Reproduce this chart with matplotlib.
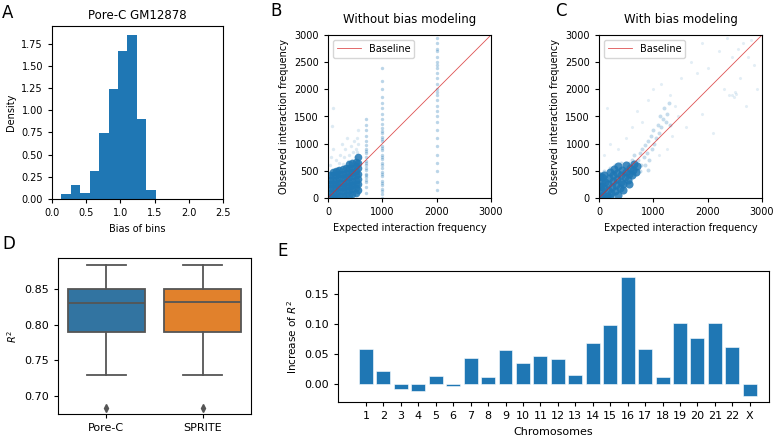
import numpy as np
import matplotlib
matplotlib.use("Agg")
import matplotlib.pyplot as plt

plt.rcParams['font.family'] = ['DejaVu Sans']

# A: histogram of bin biases (density per bin)
bias_edges = [0.136, 0.282, 0.413, 0.558, 0.694, 0.830, 0.966, 1.102, 1.243, 1.379, 1.520]
bias_density = [0.06, 0.16, 0.07, 0.32, 0.74, 1.24, 1.67, 1.85, 0.90, 0.10]

# B: without bias modeling (expected, observed)
b_core_x = [30, 30, 30, 30, 30, 30,
            90, 90, 90, 90, 90, 90, 90,
            150, 150, 150, 150, 150, 150, 150,
            210, 210, 210, 210, 210, 210, 210,
            270, 270, 270, 270, 270, 270, 270,
            330, 330, 330, 330, 330, 330, 330,
            390, 390, 390, 390, 390, 390, 390, 390,
            450, 450, 450, 450, 450, 450, 450, 450,
            510, 510, 510, 510, 510, 510, 510, 510,
            550, 550, 550, 550, 550, 550, 550]
b_core_y = [20, 100, 180, 260, 340, 420,
            20, 100, 180, 260, 340, 420, 470,
            20, 100, 180, 260, 340, 420, 490,
            40, 120, 200, 280, 360, 440, 520,
            40, 120, 200, 280, 360, 440, 530,
            60, 140, 220, 300, 380, 460, 560,
            60, 140, 220, 300, 380, 460, 560, 620,
            80, 160, 240, 320, 400, 480, 560, 640,
            100, 180, 260, 340, 420, 500, 580, 660,
            150, 250, 350, 450, 550, 650, 750]
b_sparse_x = [40, 60, 100, 80, 90, 150, 200, 220, 250, 300, 320, 350, 380, 420, 460,
              480, 520, 540, 550, 500, 280, 180, 120, 440, 360, 550, 530]
b_sparse_y = [600, 750, 900, 1330, 1650, 700, 650, 800, 1000, 750, 900, 1100, 800, 950, 850,
              1050, 900, 1100, 1250, 750, 620, 560, 520, 700, 680, 1000, 850]
b_col_x = [700, 700, 700, 700, 700, 700, 700, 700, 700, 700, 700, 700, 700, 700, 700, 700, 700,
           700, 700, 700, 700, 700,
           1000, 1000, 1000, 1000, 1000, 1000, 1000, 1000, 1000, 1000, 1000, 1000, 1000, 1000,
           1000, 1000, 1000, 1000, 1000, 1000, 1000, 1000, 1000, 1000, 1000, 1000,
           1000, 1000, 1000, 1000, 1000, 1000, 1000, 1000,
           2000, 2000, 2000, 2000, 2000, 2000, 2000, 2000, 2000, 2000, 2000, 2000, 2000, 2000,
           2000, 2000, 2000, 2000, 2000, 2000, 2000, 2000, 2000, 2000, 2000, 2000, 2000]
b_col_y = [100, 200, 300, 380, 450, 520, 600, 680, 750, 820, 900, 980, 1050, 1150, 1250, 1350, 1450,
           340, 420, 560, 640, 860,
           0, 80, 160, 240, 320, 400, 480, 560, 640, 720, 800, 880, 960, 1040,
           1120, 1200, 1280, 1360, 1450, 1550, 1650, 1750, 1850, 2000, 2150, 2400,
           120, 280, 440, 600, 760, 920, 1080, 1240,
           150, 300, 500, 650, 800, 950, 1100, 1250, 1400, 1500, 1600, 1700, 1800, 1900,
           1950, 2000, 2100, 2200, 2300, 2400, 2450, 2500, 2600, 2700, 2750, 2850, 2950]

# C: with bias modeling (expected, observed)
c_core_x = [20, 30, 40, 50, 80, 100, 110, 90, 150, 160, 170, 180, 200, 230, 240, 250, 260, 280,
            300, 320, 330, 340, 350, 380, 400, 410, 430, 450, 470, 490, 500, 530, 550, 570,
            600, 620, 650, 680, 700, 200, 350, 450, 550, 120, 60, 10, 10]
c_core_y = [30, 120, 220, 320, 60, 180, 300, 420, 40, 140, 250, 370, 480, 90, 200, 310, 420, 530,
            120, 240, 350, 460, 580, 180, 300, 420, 520, 250, 380, 480, 600, 330, 440, 560,
            420, 520, 620, 480, 580, 10, 60, 150, 250, 0, 380, 200, 400]
c_mid_x = [720, 750, 780, 800, 820, 850, 880, 900, 920, 950, 970, 1000, 1020, 1050, 1080, 1100,
           1120, 1150, 1180, 1200, 1230, 1250, 1300, 1280, 650, 600, 550, 400, 300, 200, 100,
           750, 850, 900]
c_mid_y = [700, 820, 600, 900, 750, 980, 820, 1050, 700, 1150, 900, 1250, 1000, 1100, 1350, 1200,
           1500, 1300, 1450, 1650, 1400, 1550, 1350, 1750, 800, 700, 650, 650, 600, 560, 500,
           500, 600, 520]
c_sparse_x = [100, 200, 150, 350, 500, 600, 700, 800, 900, 1000, 1150, 1300, 1400, 1450, 1500,
              1600, 1700, 1800, 1900, 2000, 2100, 2200, 2300, 2400, 2450, 2500, 2550, 2600, 2700,
              2750, 2800, 2850, 2900, 2650, 2480, 2520, 2440, 1250, 1350, 1100, 1900, 2350]
c_sparse_y = [800, 1000, 1650, 900, 1100, 1300, 1600, 1400, 1800, 2000, 2100, 1900, 1700, 1500, 2200,
              1300, 2500, 2300, 1550, 2400, 1200, 2700, 2000, 1900, 2600, 1950, 2750, 2200, 1700,
              2600, 2900, 2450, 2000, 2850, 1850, 1920, 1900, 900, 1150, 800, 2850, 2950]
baseline = [0, 3000]

# D: R^2 box stats
box_labels = ["Pore-C", "SPRITE"]
box_whislo = [0.729, 0.729]
box_q1 = [0.790, 0.790]
box_med = [0.830, 0.831]
box_q3 = [0.850, 0.850]
box_whishi = [0.883, 0.883]
box_fliers = [[0.684], [0.684]]
box_colors = ["#3274a1", "#e1812c"]

# E: increase of R^2 per chromosome
chroms = ["1", "2", "3", "4", "5", "6", "7", "8", "9", "10", "11", "12", "13", "14", "15",
          "16", "17", "18", "19", "20", "21", "22", "X"]
r2_increase = [0.058, 0.021, -0.008, -0.012, 0.014, -0.003, 0.043, 0.011, 0.056, 0.035, 0.047,
               0.042, 0.015, 0.069, 0.098, 0.178, 0.058, 0.011, 0.101, 0.077, 0.101, 0.061, -0.020]

W, H = 780, 436
fig = plt.figure(figsize=(W / 100, H / 100), dpi=100)


def px_axes(l, t, r, b):
    return fig.add_axes([l / W, 1 - b / H, (r - l) / W, (b - t) / H])


tick_fs = 7
lab_fs = 7
blue = "#1f77b4"

# A
axA = px_axes(52, 26, 223, 199)
axA.hist(bias_edges[:-1], bins=bias_edges, weights=bias_density, color=blue)
axA.set_xlim(0, 2.5)
axA.set_ylim(0, 1.95)
axA.set_xticks([0, 0.5, 1.0, 1.5, 2.0, 2.5])
axA.set_yticks([0, 0.25, 0.5, 0.75, 1.0, 1.25, 1.5, 1.75])
axA.set_title("Pore-C GM12878", fontsize=8.5, pad=5)
axA.set_xlabel("Bias of bins", fontsize=lab_fs)
axA.set_ylabel("Density", fontsize=lab_fs)


def scatter_panel(ax, layers, title):
    for xs, ys, s, a in layers:
        ax.scatter(xs, ys, s=s, color=blue, alpha=a, linewidths=0)
    ax.plot(baseline, baseline, color="#d62728", lw=0.6, alpha=0.8, label="Baseline")
    ax.set_xlim(0, 3000)
    ax.set_ylim(0, 3000)
    ax.set_xticks([0, 1000, 2000, 3000])
    ax.set_yticks([0, 500, 1000, 1500, 2000, 2500, 3000])
    ax.set_title(title, fontsize=8.5, pad=9)
    ax.set_xlabel("Expected interaction frequency", fontsize=lab_fs)
    ax.set_ylabel("Observed interaction frequency", fontsize=lab_fs)
    ax.legend(loc="upper left", fontsize=7, handlelength=2.5)


axB = px_axes(328, 35, 491, 198)
scatter_panel(axB, [(b_core_x, b_core_y, 30, 0.85),
                    (b_sparse_x, b_sparse_y, 6, 0.15),
                    (b_col_x, b_col_y, 6, 0.3)], "Without bias modeling")

axC = px_axes(599, 35, 762, 198)
scatter_panel(axC, [(c_core_x, c_core_y, 34, 0.85),
                    (c_mid_x, c_mid_y, 8, 0.25),
                    (c_sparse_x, c_sparse_y, 5, 0.12)], "With bias modeling")

# D
axD = px_axes(58, 258, 251, 414)
stats = []
for i in range(len(box_labels)):
    stats.append(dict(label=box_labels[i], whislo=box_whislo[i], q1=box_q1[i], med=box_med[i],
                      q3=box_q3[i], whishi=box_whishi[i], fliers=box_fliers[i]))
gray = "#555555"
bp = axD.bxp(stats, positions=[0, 1], widths=0.8, patch_artist=True, showcaps=True,
             boxprops=dict(edgecolor=gray, linewidth=1.3),
             medianprops=dict(color=gray, linewidth=1.3),
             whiskerprops=dict(color=gray, linewidth=1.3),
             capprops=dict(color=gray, linewidth=1.3),
             flierprops=dict(marker="d", markerfacecolor=gray, markeredgecolor=gray, markersize=4))
for patch, c in zip(bp["boxes"], box_colors):
    patch.set_facecolor(c)
axD.set_xlim(-0.5, 1.5)
axD.set_ylim(0.675, 0.893)
axD.set_yticks([0.70, 0.75, 0.80, 0.85])
axD.set_ylabel("$R^2$", fontsize=lab_fs)

# E
axE = px_axes(338, 271, 769, 402)
pos = np.arange(len(chroms))
axE.bar(pos, r2_increase, width=0.8, color=blue, edgecolor="white", linewidth=0.4)
axE.set_xticks(pos)
axE.set_xticklabels(chroms)
axE.set_xlim(-1.6, 23.1)
axE.set_ylim(-0.03, 0.188)
axE.set_yticks([0.0, 0.05, 0.10, 0.15])
axE.set_xlabel("Chromosomes", fontsize=lab_fs + 1)
axE.set_ylabel("Increase of $R^2$", fontsize=lab_fs + 0.5)

for ax in [axA, axB, axC]:
    ax.tick_params(labelsize=tick_fs, length=3)
for ax in [axD, axE]:
    ax.tick_params(labelsize=tick_fs + 1, length=3)

for lbl, x, y in [("A", 2, 18), ("B", 270, 16), ("C", 555, 16), ("D", 2, 249), ("E", 277, 256)]:
    fig.text(x / W, 1 - y / H, lbl, fontsize=12)

fig.savefig("out.png", dpi=100)
